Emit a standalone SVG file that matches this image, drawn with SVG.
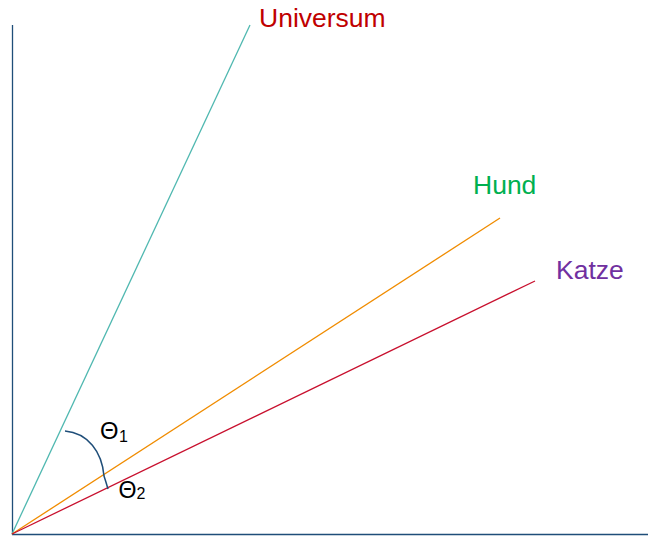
<svg xmlns="http://www.w3.org/2000/svg" width="648" height="536" viewBox="0 0 648 536">
<style>
.lbl{font-family:"Liberation Sans",Arial,sans-serif;font-size:26.5px}
.th{font-family:"Liberation Sans",Arial,sans-serif;font-size:24px;fill:#000}
.sub{font-size:16px}
line{fill:none;stroke-width:1.3}
</style>
<rect width="648" height="536" fill="#fff"/>
<g id="axes">
<line x1="12.5" y1="25" x2="12.5" y2="535" stroke="#1f4e79" stroke-width="2"/>
<line x1="12" y1="534.5" x2="648" y2="534.5" stroke="#1f4e79" stroke-width="2"/>
</g>
<g id="connectors">
<line x1="12" y1="534" x2="250" y2="25" stroke="#4fb8b0"/>
<line x1="12" y1="534" x2="500" y2="218" stroke="#f08c00"/>
<line x1="12" y1="534" x2="535" y2="281" stroke="#c8102e"/>
<path d="M65,431 C88,433 102,452 104,476 Q106,482 108,489" fill="none" stroke="#1f4e79" stroke-width="1.5"/>
</g>
<g id="universum"><text class="lbl" x="259" y="27" fill="#c00000">Universum</text></g>
<g id="hund"><text class="lbl" x="473" y="194" fill="#00b050">Hund</text></g>
<g id="katze"><text class="lbl" x="556" y="279" fill="#7030a0">Katze</text></g>
<g id="theta1"><text class="th" x="100" y="438.5" textLength="18.5" lengthAdjust="spacingAndGlyphs">Θ</text><text class="th sub" x="119" y="441.5">1</text></g>
<g id="theta2"><text class="th" x="118.5" y="497.5" textLength="18" lengthAdjust="spacingAndGlyphs">Θ</text><text class="th sub" x="136.5" y="499">2</text></g>
</svg>
